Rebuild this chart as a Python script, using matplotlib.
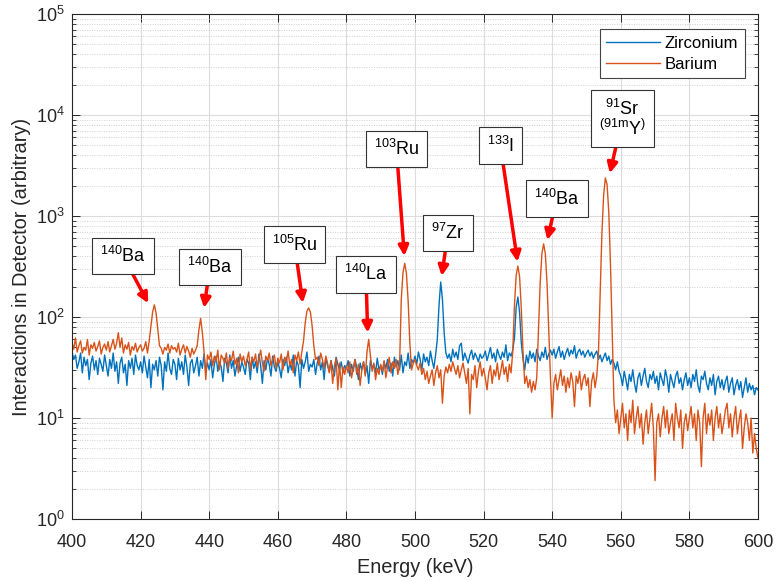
import numpy as np
import matplotlib
matplotlib.use('Agg')
import matplotlib.pyplot as plt
from matplotlib.ticker import LogLocator, NullFormatter, MultipleLocator

plt.rcParams['font.family'] = ['Liberation Sans', 'DejaVu Sans']
plt.rcParams['mathtext.fontset'] = 'custom'
plt.rcParams['mathtext.rm'] = 'Liberation Sans'
plt.rcParams['mathtext.it'] = 'Liberation Sans'
plt.rcParams['mathtext.bf'] = 'Liberation Sans:bold'

# spectra, 0.5 keV bins from 400 to 600 keV (one row = 10 keV)
energy = np.arange(400, 600.25, 0.5)

zirconium = [
    45, 38, 42, 31, 36, 44, 28, 40, 33, 38, 24, 35, 41, 30, 37, 27, 39, 34, 29, 42,
    33, 26, 38, 31, 44, 29, 36, 22, 35, 40, 28, 34, 21, 37, 31, 39, 27, 42, 33, 30,
    36, 28, 41, 32, 25, 38, 20, 34, 30, 37, 26, 40, 33, 19, 36, 29, 44, 31, 27, 38,
    34, 24, 39, 30, 36, 27, 42, 32, 21, 35, 38, 28, 33, 40, 26, 37, 31, 43, 29, 35,
    30, 38, 25, 34, 41, 29, 36, 32, 23, 39, 35, 28, 42, 31, 37, 26, 33, 40, 29, 36,
    32, 27, 38, 35, 24, 40, 31, 36, 28, 43, 33, 22, 37, 30, 39, 34, 26, 41, 32, 29,
    36, 31, 25, 38, 33, 40, 28, 35, 30, 42, 26, 37, 33, 20, 38, 31, 36, 45, 29, 34,
    32, 38, 27, 35, 41, 30, 36, 24, 39, 33, 29, 37, 31, 26, 40, 34, 30, 36, 28, 33,
    31, 37, 26, 34, 29, 38, 32, 24, 35, 30, 36, 27, 33, 22, 37, 31, 34, 28, 39, 30,
    33, 27, 36, 31, 38, 29, 35, 26, 40, 32, 37, 30, 42, 28, 36, 33, 44, 31, 38, 35,
    41, 34, 45, 38, 30, 43, 36, 40, 33, 46, 37, 31, 42, 60, 130, 222, 150, 70, 44, 39,
    43, 36, 48, 40, 45, 38, 52, 55, 37, 44, 39, 35, 42, 47, 38, 44, 40, 36, 43, 39,
    41, 46, 37, 43, 50, 39, 44, 36, 48, 42, 38, 45, 40, 53, 37, 44, 41, 47, 62, 125,
    158, 110, 55, 38, 30, 42, 35, 46, 39, 44, 36, 48, 41, 37, 45, 40, 50, 38, 43, 47,
    42, 48, 39, 45, 51, 40, 46, 38, 44, 49, 41, 47, 43, 52, 39, 45, 48, 42, 46, 40,
    44, 47, 41, 45, 39, 43, 46, 38, 42, 36, 40, 44, 37, 41, 34, 38, 35, 30, 36, 29,
    26, 21, 29, 24, 19, 27, 23, 30, 22, 18, 25, 28, 21, 26, 31, 23, 20, 27, 24, 29,
    22, 26, 19, 28, 24, 21, 30, 25, 18, 27, 23, 20, 26, 29, 22, 25, 19, 24, 28, 21,
    25, 20, 27, 23, 30, 21, 18, 26, 24, 29, 22, 19, 25, 21, 27, 17, 23, 26, 20, 24,
    19, 23, 26, 18, 22, 25, 17, 21, 24, 19, 23, 16, 20, 25, 18, 22, 19, 21, 17, 20,
    19,
]

barium = [
    55, 48, 62, 45, 52, 58, 44, 50, 47, 60, 42, 53, 49, 56, 46, 51, 58, 43, 50, 54,
    47, 57, 45, 52, 60, 48, 55, 70, 50, 62, 44, 53, 48, 56, 42, 51, 47, 55, 45, 50,
    53, 46, 49, 57, 44, 58, 80, 112, 132, 110, 75, 52, 49, 43, 50, 47, 54, 44, 52, 48,
    50, 45, 55, 42, 48, 53, 44, 51, 46, 40, 49, 43, 47, 52, 75, 97, 70, 45, 24, 42,
    38, 45, 33, 41, 36, 47, 30, 42, 39, 35, 44, 31, 40, 37, 46, 34, 39, 28, 43, 36,
    41, 33, 38, 45, 30, 40, 36, 43, 32, 39, 47, 35, 29, 41, 37, 44, 33, 38, 42, 31,
    39, 35, 43, 30, 40, 36, 46, 33, 38, 28, 42, 37, 45, 34, 45, 58, 88, 115, 123, 112,
    82, 52, 38, 40, 33, 44, 38, 31, 41, 35, 28, 37, 22, 33, 39, 19, 35, 20, 32, 27,
    33, 28, 36, 25, 31, 38, 27, 34, 21, 30, 36, 26, 45, 60, 42, 29, 35, 24, 31, 27,
    34, 29, 37, 25, 32, 40, 28, 36, 31, 38, 27, 33, 150, 275, 340, 270, 145, 55, 30, 35,
    38, 33, 30, 35, 27, 31, 24, 29, 22, 26, 30, 21, 28, 33, 25, 30, 14, 26, 32, 28,
    34, 29, 36, 31, 27, 33, 25, 30, 35, 28, 22, 31, 11, 27, 24, 33, 20, 29, 36, 26,
    31, 25, 19, 28, 33, 22, 30, 26, 35, 24, 29, 37, 27, 32, 23, 34, 28, 45, 130, 260,
    320, 250, 120, 45, 22, 26, 20, 24, 18, 23, 19, 25, 72, 217, 424, 530, 424, 217, 72, 25,
    10, 22, 27, 19, 24, 30, 21, 26, 18, 25, 20, 28, 23, 13, 26, 22, 29, 19, 24, 27,
    21, 25, 13, 23, 28, 20, 26, 45, 170, 680, 1600, 2380, 2050, 1100, 330, 70, 15, 9, 12, 7,
    10, 14, 8, 11, 6, 12, 9, 15, 7, 10, 13, 8, 11, 5.5, 9, 12, 7, 10, 14, 8,
    2.4, 9, 11, 6.5, 10, 13, 8, 12, 7, 9, 11, 6, 14, 10, 8, 12, 5, 9, 11, 7.5,
    10, 13, 8, 11, 6, 12, 9, 3.3, 10, 14, 7, 11, 8.5, 12, 6, 10, 13, 8, 11, 7,
    9, 12, 14, 8, 11, 6.5, 10, 13, 7, 9.5, 12, 5, 8, 11, 9, 6, 10, 4.5, 7, 5,
    4,
]

# peak labels: text, box centre, arrow tip
labels = [r'$^{140}$Ba', r'$^{140}$Ba', r'$^{105}$Ru', r'$^{140}$La', r'$^{103}$Ru',
          r'$^{97}$Zr', r'$^{133}$I', r'$^{140}$Ba',
          '$^{91}$Sr\n' + r'$^{(91\mathrm{m}}$Y$^{)}$']
label_pos = [(414.9, 402), (440.2, 313), (464.9, 522), (485.7, 264), (494.6, 4605),
             (509.6, 679), (524.9, 4990), (541.3, 1490), (560.5, 9230)]
arrow_tip = [(422.2, 137), (438.5, 123), (467.3, 138), (486.2, 70), (496.9, 402),
             (507.8, 255), (529.9, 353), (538.6, 578), (556.8, 2650)]

fig = plt.figure(figsize=(7.77, 5.81), dpi=100)
ax = fig.add_axes([0.0927, 0.1067, 0.8828, 0.8692])

ax.plot(energy, zirconium, color='#0072BD', lw=1.0, label='Zirconium')
ax.plot(energy, barium, color='#D95319', lw=1.0, label='Barium')

ax.set_yscale('log')
ax.set_xlim(400, 600)
ax.set_ylim(1, 1e5)
ax.xaxis.set_major_locator(MultipleLocator(20))
ax.yaxis.set_major_locator(LogLocator(base=10, numticks=10))
ax.yaxis.set_minor_locator(LogLocator(base=10, subs=np.arange(2, 10), numticks=20))
ax.yaxis.set_minor_formatter(NullFormatter())

ax.grid(True, which='major', color='#dcdcdc', lw=0.8)
ax.grid(True, which='minor', axis='y', color='#d0d0d0', lw=0.7, ls=(0, (1, 1.5)))
ax.set_axisbelow(True)

ax.tick_params(which='both', direction='in', top=True, right=True, colors='#262626',
               labelsize=13)
ax.tick_params(which='major', length=6, width=0.7)
ax.tick_params(which='minor', length=3, width=0.6)
ax.tick_params(axis='x', pad=11)
ax.tick_params(axis='y', pad=5)
for s in ax.spines.values():
    s.set_color('#262626')
    s.set_linewidth(0.8)

ax.set_xlabel('Energy (keV)', fontsize=14.4, color='#262626', labelpad=5)
ax.set_ylabel('Interactions in Detector (arbitrary)', fontsize=14.4, color='#262626',
              labelpad=4)

for txt, pos, tip in zip(labels, label_pos, arrow_tip):
    ax.annotate(txt, xy=tip, xytext=pos, ha='center', va='center', fontsize=13,
                linespacing=1.0,
                bbox=dict(boxstyle='square,pad=0.45', fc='white', ec='#333333', lw=0.8),
                arrowprops=dict(arrowstyle='-|>', color='red', lw=2.5,
                                mutation_scale=15, shrinkA=0, shrinkB=0))

leg = ax.legend(loc='upper right', bbox_to_anchor=(0.981, 0.970), fontsize=12,
                fancybox=False, edgecolor='#444444', framealpha=1, handlelength=3.2,
                handletextpad=0.3, borderpad=0.4, labelspacing=0.35, borderaxespad=0)
leg.get_frame().set_linewidth(0.8)

fig.savefig('out.png', dpi=100)
